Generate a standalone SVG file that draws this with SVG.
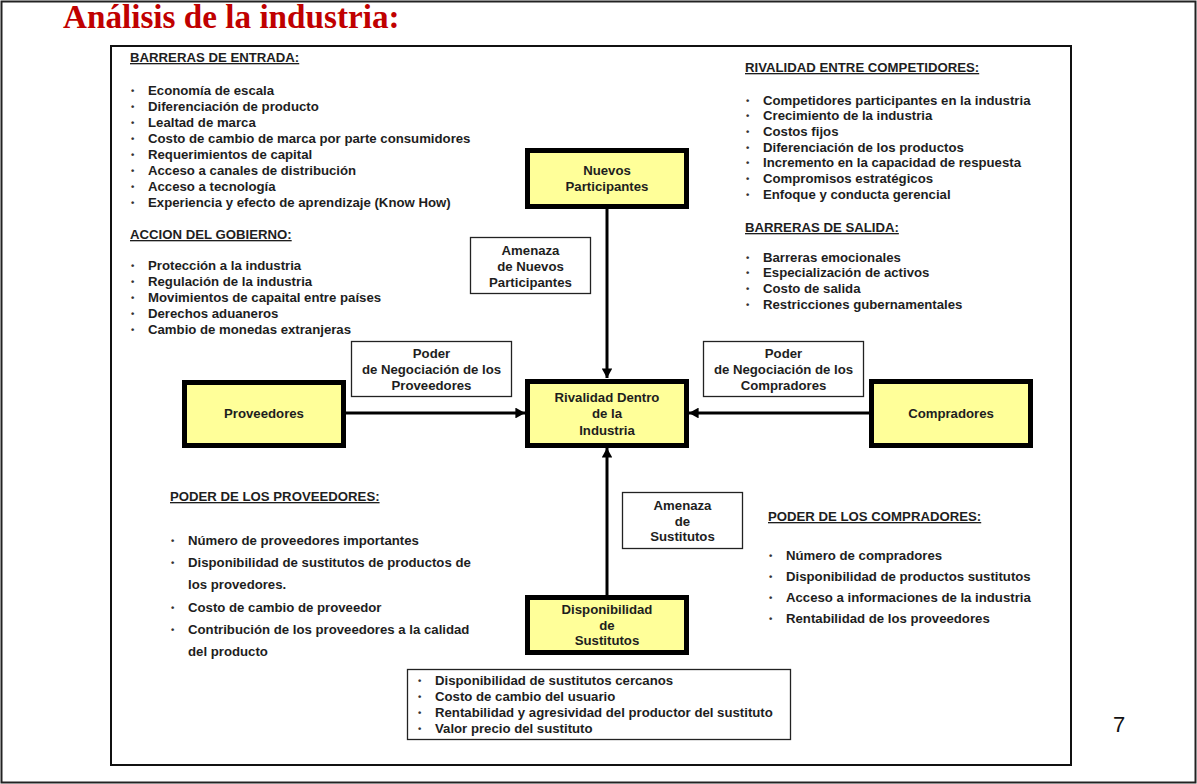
<svg xmlns="http://www.w3.org/2000/svg" width="1197" height="784" viewBox="0 0 1197 784">
<style>
.t{font-family:"Liberation Sans",Arial,sans-serif;font-weight:bold;font-size:13.2px;fill:#1e1e1e}
.b{font-family:"Liberation Sans",Arial,sans-serif;font-weight:bold;font-size:9.5px;fill:#333}
.c{text-anchor:middle}
.h{text-decoration:underline}
.node{fill:#FFFF99;stroke:#000;stroke-width:5}
.lbl{fill:#fff;stroke:#222;stroke-width:1.3}
.con{stroke:#000;stroke-width:3;fill:none}
</style>
<defs>
<marker id="ah" markerWidth="3.2" markerHeight="3.6" refX="3.2" refY="1.8" orient="auto" markerUnits="strokeWidth">
<path d="M0,0 L3.2,1.8 L0,3.6 Z" fill="#000"/>
</marker>
</defs>
<rect x="0" y="0" width="1197" height="784" fill="#fff"/>
<rect x="1.5" y="1.5" width="1194" height="781" fill="none" stroke="#222" stroke-width="2"/>
<text x="63" y="28" font-family="'Liberation Serif','Times New Roman',serif" font-weight="bold" font-size="33.2" fill="#C00000">Análisis de la industria:</text>
<rect x="111" y="46" width="960" height="719" fill="none" stroke="#111" stroke-width="2"/>

<g id="barreras-entrada">
<text x="130" y="62" class="t h">BARRERAS DE ENTRADA:</text>
<text class="b" x="131" y="94">•</text><text class="t" x="148" y="95">Economía de escala</text>
<text class="b" x="131" y="110">•</text><text class="t" x="148" y="111">Diferenciación de producto</text>
<text class="b" x="131" y="126">•</text><text class="t" x="148" y="127">Lealtad de marca</text>
<text class="b" x="131" y="142">•</text><text class="t" x="148" y="143">Costo de cambio de marca por parte consumidores</text>
<text class="b" x="131" y="158">•</text><text class="t" x="148" y="159">Requerimientos de capital</text>
<text class="b" x="131" y="174">•</text><text class="t" x="148" y="175">Acceso a canales de distribución</text>
<text class="b" x="131" y="190">•</text><text class="t" x="148" y="191">Acceso a tecnología</text>
<text class="b" x="131" y="206">•</text><text class="t" x="148" y="207">Experiencia y efecto de aprendizaje (Know How)</text>
</g>

<g id="accion-gobierno">
<text x="130" y="239" class="t h">ACCION DEL GOBIERNO:</text>
<text class="b" x="131" y="269">•</text><text class="t" x="148" y="270">Protección a la industria</text>
<text class="b" x="131" y="285">•</text><text class="t" x="148" y="286">Regulación de la industria</text>
<text class="b" x="131" y="301">•</text><text class="t" x="148" y="302">Movimientos de capaital entre países</text>
<text class="b" x="131" y="317">•</text><text class="t" x="148" y="318">Derechos aduaneros</text>
<text class="b" x="131" y="333">•</text><text class="t" x="148" y="334">Cambio de monedas extranjeras</text>
</g>

<g id="rivalidad-competidores">
<text x="745" y="72" class="t h">RIVALIDAD ENTRE COMPETIDORES:</text>
<text class="b" x="746" y="103.5">•</text><text class="t" x="763" y="104.5">Competidores participantes en la industria</text>
<text class="b" x="746" y="119.2">•</text><text class="t" x="763" y="120.2">Crecimiento de la industria</text>
<text class="b" x="746" y="134.9">•</text><text class="t" x="763" y="135.9">Costos fijos</text>
<text class="b" x="746" y="150.6">•</text><text class="t" x="763" y="151.6">Diferenciación de los productos</text>
<text class="b" x="746" y="166.3">•</text><text class="t" x="763" y="167.3">Incremento en la capacidad de respuesta</text>
<text class="b" x="746" y="182">•</text><text class="t" x="763" y="183">Compromisos estratégicos</text>
<text class="b" x="746" y="197.7">•</text><text class="t" x="763" y="198.7">Enfoque y conducta gerencial</text>
</g>

<g id="barreras-salida">
<text x="745" y="232" class="t h">BARRERAS DE SALIDA:</text>
<text class="b" x="746" y="260.5">•</text><text class="t" x="763" y="261.5">Barreras emocionales</text>
<text class="b" x="746" y="276.2">•</text><text class="t" x="763" y="277.2">Especialización de activos</text>
<text class="b" x="746" y="291.9">•</text><text class="t" x="763" y="292.9">Costo de salida</text>
<text class="b" x="746" y="307.6">•</text><text class="t" x="763" y="308.6">Restricciones gubernamentales</text>
</g>

<g id="poder-proveedores">
<text x="170" y="501" class="t h">PODER DE LOS PROVEEDORES:</text>
<text class="b" x="171" y="544">•</text><text class="t" x="188" y="545">Número de proveedores importantes</text>
<text class="b" x="171" y="566">•</text><text class="t" x="188" y="567">Disponibilidad de sustitutos de productos de</text>
<text class="t" x="188" y="589">los provedores.</text>
<text class="b" x="171" y="611">•</text><text class="t" x="188" y="612">Costo de cambio de proveedor</text>
<text class="b" x="171" y="633">•</text><text class="t" x="188" y="634">Contribución de los proveedores a la calidad</text>
<text class="t" x="188" y="656">del producto</text>
</g>

<g id="poder-compradores">
<text x="768" y="521" class="t h">PODER DE LOS COMPRADORES:</text>
<text class="b" x="769" y="559">•</text><text class="t" x="786" y="560">Número de compradores</text>
<text class="b" x="769" y="580">•</text><text class="t" x="786" y="581">Disponibilidad de productos sustitutos</text>
<text class="b" x="769" y="601">•</text><text class="t" x="786" y="602">Acceso a informaciones de la industria</text>
<text class="b" x="769" y="622">•</text><text class="t" x="786" y="623">Rentabilidad de los proveedores</text>
</g>

<g id="connectors">
<line class="con" x1="607" y1="209" x2="607" y2="378" marker-end="url(#ah)"/>
<line class="con" x1="346" y1="413" x2="525" y2="413" marker-end="url(#ah)"/>
<line class="con" x1="869" y1="413" x2="689" y2="413" marker-end="url(#ah)"/>
<line class="con" x1="607" y1="595" x2="607" y2="448" marker-end="url(#ah)"/>
</g>

<g id="nuevos-participantes">
<rect class="node" x="527.5" y="150.5" width="159" height="56"/>
<text class="t c" x="607" y="175">Nuevos</text>
<text class="t c" x="607" y="191">Participantes</text>
</g>

<g id="rivalidad">
<rect class="node" x="527.5" y="381.5" width="159" height="64"/>
<text class="t c" x="607" y="402">Rivalidad Dentro</text>
<text class="t c" x="607" y="418">de la</text>
<text class="t c" x="607" y="435">Industria</text>
</g>

<g id="proveedores">
<rect class="node" x="184.5" y="382.5" width="159" height="63"/>
<text class="t c" x="264" y="418">Proveedores</text>
</g>

<g id="compradores">
<rect class="node" x="871.5" y="381.5" width="159" height="64"/>
<text class="t c" x="951" y="418">Compradores</text>
</g>

<g id="disponibilidad-sustitutos">
<rect class="node" x="527.5" y="597.5" width="159" height="55"/>
<text class="t c" x="607" y="614">Disponibilidad</text>
<text class="t c" x="607" y="629.5">de</text>
<text class="t c" x="607" y="645">Sustitutos</text>
</g>

<g id="amenaza-nuevos">
<rect class="lbl" x="470.5" y="237.5" width="120" height="56"/>
<text class="t c" x="530.5" y="255">Amenaza</text>
<text class="t c" x="530.5" y="271">de Nuevos</text>
<text class="t c" x="530.5" y="287">Participantes</text>
</g>

<g id="poder-negociacion-proveedores">
<rect class="lbl" x="351.5" y="341.5" width="160" height="55"/>
<text class="t c" x="431.5" y="358">Poder</text>
<text class="t c" x="431.5" y="374">de Negociación de los</text>
<text class="t c" x="431.5" y="390">Proveedores</text>
</g>

<g id="poder-negociacion-compradores">
<rect class="lbl" x="703.5" y="341.5" width="160" height="55"/>
<text class="t c" x="783.5" y="358">Poder</text>
<text class="t c" x="783.5" y="374">de Negociación de los</text>
<text class="t c" x="783.5" y="390">Compradores</text>
</g>

<g id="amenaza-sustitutos">
<rect class="lbl" x="622.5" y="492.5" width="120" height="56"/>
<text class="t c" x="682.5" y="510">Amenaza</text>
<text class="t c" x="682.5" y="526">de</text>
<text class="t c" x="682.5" y="541">Sustitutos</text>
</g>

<g id="sustitutos-lista">
<rect class="lbl" x="407.5" y="669.5" width="383" height="70"/>
<text class="b" x="418" y="684">•</text><text class="t" x="435" y="685">Disponibilidad de sustitutos cercanos</text>
<text class="b" x="418" y="700">•</text><text class="t" x="435" y="701">Costo de cambio del usuario</text>
<text class="b" x="418" y="716">•</text><text class="t" x="435" y="717">Rentabilidad y agresividad del productor del sustituto</text>
<text class="b" x="418" y="732">•</text><text class="t" x="435" y="733">Valor precio del sustituto</text>
</g>

<text x="1113" y="732" font-family="'Liberation Sans',Arial,sans-serif" font-size="22" fill="#111">7</text>
</svg>
